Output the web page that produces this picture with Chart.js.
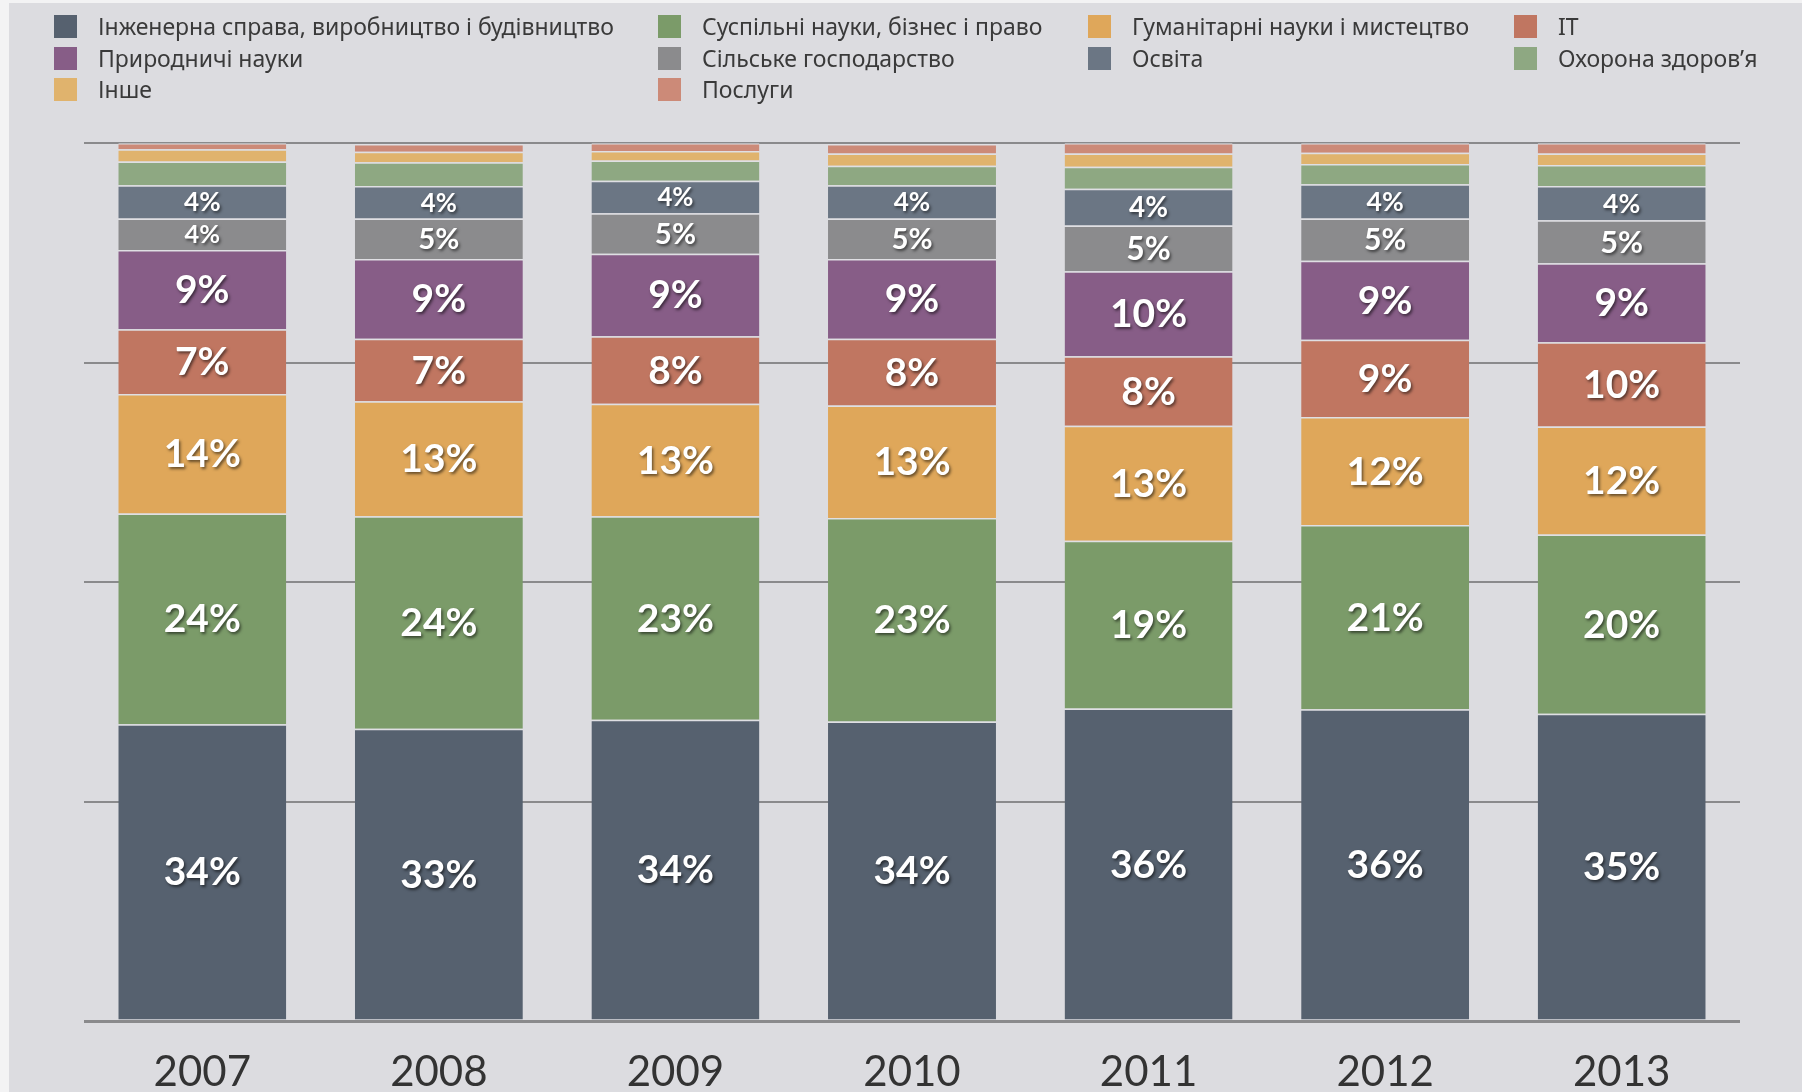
<!DOCTYPE html>
<html>
<head>
<meta charset="utf-8">
<script src="https://cdn.jsdelivr.net/npm/chart.js@4.4.0/dist/chart.umd.min.js"></script>
<style>
html, body { margin: 0; padding: 0; background: #f3f3f4; overflow: hidden; }
#panel { position: absolute; left: 9px; top: 3px; width: 1793px; height: 1089px; background: #dcdce0; }
#c { position: absolute; left: 0; top: 0; }
.leg { position: absolute; font-family: "Noto Sans", sans-serif; font-size: 23px; line-height: 23px; color: #3a3a3a; white-space: nowrap; }
.leg .sw { position: absolute; left: -44px; top: 0; width: 23px; height: 23px; }
</style>
</head>
<body>
<div id="panel"></div>
<canvas id="c" width="1802" height="1092"></canvas>
<div id="legend"></div>
<script>
var years = ['2007', '2008', '2009', '2010', '2011', '2012', '2013'];

// share of graduates, % (bottom to top of each bar)
var engineering = [33.8, 33.3, 34.3, 34.1, 35.6, 35.5, 35.0];
var social      = [24.0, 24.2, 23.2, 23.2, 19.1, 21.0, 20.4];
var humanities  = [13.6, 13.1, 12.8, 12.8, 13.1, 12.3, 12.3];
var it          = [7.4, 7.1, 7.7, 7.6, 7.9, 8.8, 9.6];
var natural     = [9.0, 9.1, 9.4, 9.1, 9.7, 9.0, 9.0];
var agriculture = [3.6, 4.6, 4.6, 4.6, 5.2, 4.8, 4.9];
var education   = [3.8, 3.7, 3.7, 3.8, 4.2, 3.9, 3.9];
var health      = [2.7, 2.7, 2.3, 2.2, 2.5, 2.3, 2.4];
var other       = [1.4, 1.2, 1.1, 1.4, 1.5, 1.3, 1.3];
var services    = [0.7, 0.9, 0.9, 1.1, 1.2, 1.1, 1.2];

var yTicks = [0, 25, 50, 75, 100];

var series = [
	{ name: 'Інженерна справа, виробництво і будівництво', data: engineering, color: '#56616f', label: true },
	{ name: 'Суспільні науки, бізнес і право', data: social, color: '#7b9b69', label: true },
	{ name: 'Гуманітарні науки і мистецтво', data: humanities, color: '#dfa75a', label: true },
	{ name: 'IT', data: it, color: '#c07661', label: true },
	{ name: 'Природничі науки', data: natural, color: '#875d87', label: true },
	{ name: 'Сільське господарство', data: agriculture, color: '#8b8b8d', label: true },
	{ name: 'Освіта', data: education, color: '#6b7684', label: true },
	{ name: 'Охорона здоров’я', data: health, color: '#8ea882', label: false },
	{ name: 'Інше', data: other, color: '#e0b36d', label: false },
	{ name: 'Послуги', data: services, color: '#cc8a78', label: false }
];

var legendCols = [98, 702, 1132, 1558];
var legendRows = [15, 47, 78];

var segLabels = {
	id: 'segLabels',
	afterDatasetsDraw: function(chart) {
		var ctx = chart.ctx;
		chart.data.datasets.forEach(function(ds, i) {
			if (!ds.showLabel) return;
			var meta = chart.getDatasetMeta(i);
			meta.data.forEach(function(bar, j) {
				var v = ds.data[j];
				var size = Math.min(39, 11 + v * 4);
				ctx.save();
				ctx.font = 'bold ' + size + 'px Lato';
				ctx.fillStyle = '#ffffff';
				ctx.textAlign = 'center';
				ctx.textBaseline = 'middle';
				ctx.shadowColor = 'rgba(0,0,0,0.55)';
				ctx.shadowOffsetX = 1.5;
				ctx.shadowOffsetY = 2;
				ctx.shadowBlur = 3;
				ctx.fillText(Math.round(v) + '%', bar.x, (bar.y + bar.base) / 2 + 1);
				ctx.restore();
			});
		});
	}
};

var datasets = series.map(function(s) {
	return {
		label: s.name,
		data: s.data,
		backgroundColor: s.color,
		borderColor: 'rgba(225,225,230,0.55)',
		borderWidth: { top: 1.5, left: 0, right: 0, bottom: 0 },
		borderSkipped: false,
		barPercentage: 0.71,
		categoryPercentage: 1,
		showLabel: s.label
	};
});

new Chart(document.getElementById('c'), {
	type: 'bar',
	data: { labels: years, datasets: datasets },
	options: {
		responsive: false,
		animation: false,
		devicePixelRatio: 1,
		layout: { padding: { left: 84, right: 62, top: 143, bottom: 0 } },
		plugins: { legend: { display: false }, tooltip: { enabled: false } },
		scales: {
			x: {
				stacked: true,
				grid: { display: false, drawTicks: false },
				border: { display: false },
				ticks: { font: { family: 'Lato', size: 42 }, color: '#333333', padding: 26 },
				afterFit: function(s) { s.height = 71; }
			},
			y: {
				stacked: true,
				min: 0,
				max: 100,
				afterBuildTicks: function(s) { s.ticks = yTicks.map(function(v) { return { value: v }; }); },
				ticks: { display: false },
				border: { display: false },
				grid: {
					color: '#8a8a8c',
					drawTicks: false,
					lineWidth: function(c) { return c.tick && c.tick.value === 0 ? 3 : 2; }
				},
				afterFit: function(s) { s.width = 0; }
			}
		}
	},
	plugins: [segLabels]
});

var legend = document.getElementById('legend');
series.forEach(function(s, i) {
	var item = document.createElement('div');
	item.className = 'leg';
	item.style.left = legendCols[i % 4] + 'px';
	item.style.top = legendRows[Math.floor(i / 4)] + 'px';
	item.innerHTML = '<span class="sw" style="background:' + s.color + '"></span>' + s.name;
	legend.appendChild(item);
});
</script>
</body>
</html>
